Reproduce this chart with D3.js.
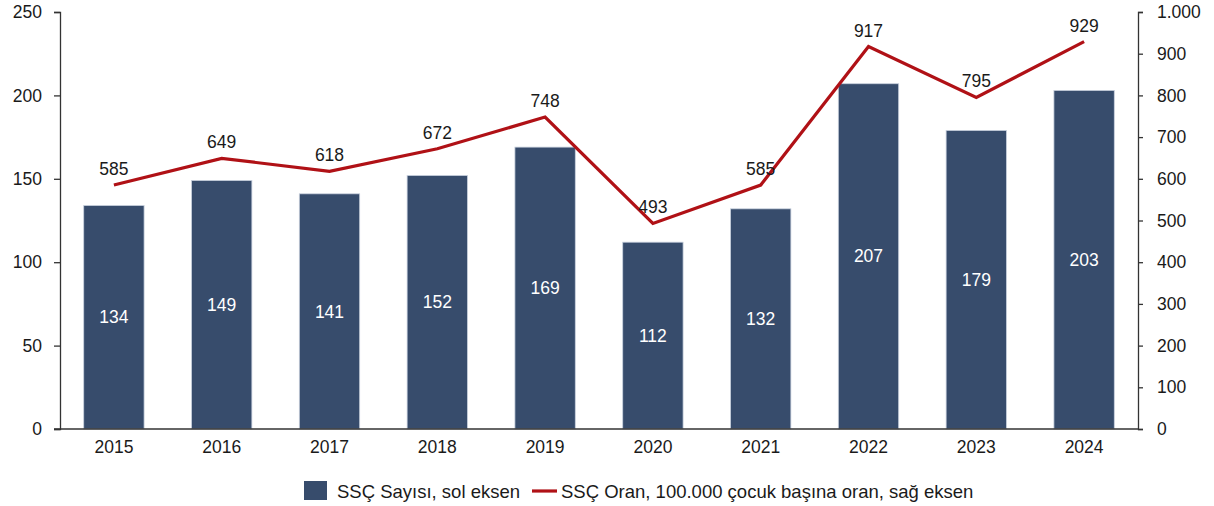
<!DOCTYPE html>
<html>
<head>
<meta charset="utf-8">
<script src="https://cdn.jsdelivr.net/npm/d3@7"></script>
<style>
  body { margin: 0; background: #fff; }
  svg text { font-family: "Liberation Sans", Arial, sans-serif; fill: #1a1a1a; }
  .axis path, .axis line { stroke: #333; stroke-width: 1.3; }
</style>
</head>
<body>
<div id="chart"></div>
<script>
var years = ["2015","2016","2017","2018","2019","2020","2021","2022","2023","2024"];
var counts = [134,149,141,152,169,112,132,207,179,203];
var rates = [585,649,618,672,748,493,585,917,795,929];
var leftTicks = [0,50,100,150,200,250];
var rightTicks = [0,100,200,300,400,500,600,700,800,900,1000];

var svgWidth = 1214;
var svgHeight = 506;
var margin = {top: 12, right: 76, bottom: 77, left: 60};
var width = svgWidth - margin.left - margin.right;
var height = svgHeight - margin.top - margin.bottom;

var barColor = "#374c6c";
var lineColor = "#b01116";
var fontSize = "17.5px";

var svg = d3.select("#chart").append("svg")
  .attr("width", svgWidth)
  .attr("height", svgHeight);

var g = svg.append("g")
  .attr("transform", "translate(" + margin.left + "," + margin.top + ")");

var x = d3.scaleBand().domain(years).range([0, width]).paddingInner(0.44).paddingOuter(0.22);
var yLeft = d3.scaleLinear().domain([0, 250]).range([height, 0]);
var yRight = d3.scaleLinear().domain([0, 1000]).range([height, 0]);

// bars
g.selectAll(".bar")
  .data(years)
  .enter().append("rect")
  .attr("class", "bar")
  .attr("x", function(d) { return x(d); })
  .attr("y", function(d, i) { return yLeft(counts[i]); })
  .attr("width", x.bandwidth())
  .attr("height", function(d, i) { return height - yLeft(counts[i]); })
  .attr("fill", barColor)
  .attr("stroke", "#c9d1de")
  .attr("stroke-width", 0.8);

// bar labels
g.selectAll(".barLabel")
  .data(years)
  .enter().append("text")
  .attr("x", function(d) { return x(d) + x.bandwidth() / 2; })
  .attr("y", function(d, i) { return (yLeft(counts[i]) + height) / 2; })
  .attr("dy", "0.35em")
  .attr("text-anchor", "middle")
  .style("font-size", fontSize)
  .style("fill", "#ffffff")
  .text(function(d, i) { return counts[i]; });

// axes
var yAxisL = d3.axisLeft(yLeft).tickValues(leftTicks).tickSize(6).tickSizeOuter(6).tickPadding(12);
var gL = g.append("g").attr("class", "axis").call(yAxisL);
gL.selectAll("text").style("font-size", fontSize);

var yAxisR = d3.axisRight(yRight).tickValues(rightTicks).tickSize(5).tickSizeOuter(5).tickPadding(14)
  .tickFormat(function(d) { return d === 1000 ? "1.000" : d; });
var gR = g.append("g").attr("class", "axis").attr("transform", "translate(" + width + ",0)").call(yAxisR);
gR.selectAll("text").style("font-size", fontSize);

var xAxis = d3.axisBottom(x).tickSize(0).tickPadding(12);
var gX = g.append("g").attr("class", "axis").attr("transform", "translate(0," + height + ")").call(xAxis);
gX.select(".domain").attr("d", "M-6,0H" + width);
gX.selectAll("text").style("font-size", fontSize);

// line
var line = d3.line()
  .x(function(d) { return x(d) + x.bandwidth() / 2; })
  .y(function(d, i) { return yRight(rates[i]); });

g.append("path")
  .datum(years)
  .attr("fill", "none")
  .attr("stroke", lineColor)
  .attr("stroke-width", 3.2)
  .attr("stroke-linejoin", "miter")
  .attr("d", line);

g.selectAll(".lineLabel")
  .data(years)
  .enter().append("text")
  .attr("x", function(d) { return x(d) + x.bandwidth() / 2; })
  .attr("y", function(d, i) { return yRight(rates[i]) - 10; })
  .attr("text-anchor", "middle")
  .style("font-size", fontSize)
  .text(function(d, i) { return rates[i]; });

// legend
var legend = svg.append("g");
legend.append("rect")
  .attr("x", 304).attr("y", 481).attr("width", 23).attr("height", 19)
  .attr("fill", barColor);
legend.append("text")
  .attr("x", 337).attr("y", 498)
  .style("font-size", "18.5px")
  .text("SSÇ Sayısı, sol eksen");
legend.append("line")
  .attr("x1", 532).attr("x2", 557).attr("y1", 491).attr("y2", 491)
  .attr("stroke", lineColor).attr("stroke-width", 3.2);
legend.append("text")
  .attr("x", 561).attr("y", 498)
  .style("font-size", "18.5px")
  .text("SSÇ Oran, 100.000 çocuk başına oran, sağ eksen");
</script>
</body>
</html>
